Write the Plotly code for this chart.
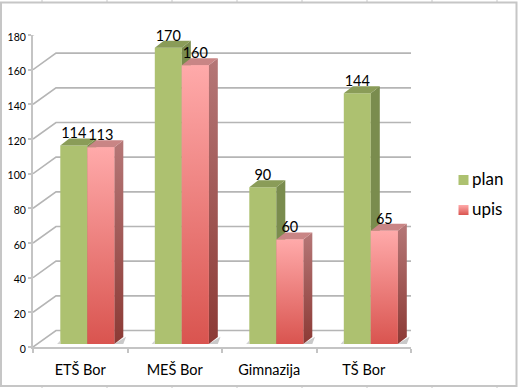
import plotly.graph_objects as go

categories = ["ETŠ Bor", "MEŠ Bor", "Gimnazija", "TŠ Bor"]
series_names = ["plan", "upis"]
plan = [114, 170, 90, 144]
upis = [113, 160, 60, 65]
y_ticks = [0, 20, 40, 60, 80, 100, 120, 140, 160, 180]

W, H = 519, 388
AX_L, AX_R, AX_T, AX_B = 33, 411, 35, 347
PX_X = (AX_R - AX_L) / 4
PX_Y = (AX_B - AX_T) / 180
BAR_ZERO, BAR_PX = 344, 1.742
BAR_W = 27 / PX_X
BAR_START = 27.3 / PX_X
SIDE_DX, SIDE_DY = 9 / PX_X, 7 / BAR_PX
WALL_DX, WALL_DY = 23 / PX_X, 16.5 / PX_Y
LABEL_DROP = 3.5 / BAR_PX

GREEN, GREEN_SIDE, GREEN_TOP = "#adc170", "#7a8c4e", "#8a9c58"
PINK_TOP, PINK_BOTTOM = "#ffaaaa", "#d9544f"
SIDE_TOP, SIDE_BOTTOM = "#b57777", "#8c3a35"
PINK_ROOF = "#c98585"
GRID, WALL = "#b5b5b5", "#c4c4c4"

fig = go.Figure()


def poly(xs, ys, color=None, yaxis="y2", gradient=None):
    t = dict(x=xs, y=ys, mode="lines", fill="toself", line=dict(width=0),
             yaxis=yaxis, xaxis="x", showlegend=False, hoverinfo="skip", cliponaxis=False)
    if gradient:
        t["fillgradient"] = dict(type="vertical", colorscale=[[0, gradient[0]], [1, gradient[1]]])
        t["fillcolor"] = gradient[0]
    else:
        t["fillcolor"] = color
    return go.Scatter(**t)


# back wall and floor
for v in y_ticks:
    fig.add_trace(go.Scatter(
        x=[0, WALL_DX, 4 + WALL_DX], y=[v, v + WALL_DY, v + WALL_DY], mode="lines",
        line=dict(color=GRID, width=1.6), yaxis="y", xaxis="x",
        showlegend=False, hoverinfo="skip", cliponaxis=False))
fig.add_trace(go.Scatter(x=[4, 4 + WALL_DX], y=[0, WALL_DY], mode="lines",
                         line=dict(color=GRID, width=1), yaxis="y", xaxis="x",
                         showlegend=False, hoverinfo="skip", cliponaxis=False))

x_plan = [i + BAR_START + BAR_W / 2 for i in range(4)]
x_upis = [i + BAR_START + BAR_W * 1.5 for i in range(4)]

# floor shadows
for i in range(4):
    l = i + BAR_START
    r = l + 2 * BAR_W
    fig.add_trace(poly([r, r + 1.3 * SIDE_DX, r + 1.0 * SIDE_DX, r],
                       [0, SIDE_DY * 1.05, 0.0, 0.0], "#c9c9c9"))
    fig.add_trace(poly([l - 0.35 * SIDE_DX, l, l],
                       [0, SIDE_DY * 0.5, 0], "#d2d2d2"))

# front faces as bars
fig.add_trace(go.Bar(x=x_plan, y=plan, width=BAR_W, name="plan", marker=dict(color=GREEN, line=dict(width=0)),
                     yaxis="y2", xaxis="x", showlegend=False, hoverinfo="skip"))
fig.add_trace(go.Bar(x=x_upis, y=upis, width=BAR_W, name="upis", marker=dict(color="#f09393", line=dict(width=0)),
                     yaxis="y2", xaxis="x", showlegend=False, hoverinfo="skip"))

# 3D faces
for i in range(4):
    l = x_plan[i] - BAR_W / 2
    r = l + BAR_W
    v = plan[i]
    fig.add_trace(poly([r, r + SIDE_DX, r + SIDE_DX, r], [0, SIDE_DY, v + SIDE_DY, v], GREEN_SIDE))
    fig.add_trace(poly([l, l + SIDE_DX, r + SIDE_DX, r], [v, v + SIDE_DY, v + SIDE_DY, v], GREEN_TOP))
for i in range(4):
    l = x_upis[i] - BAR_W / 2
    r = l + BAR_W
    v = upis[i]
    fig.add_trace(poly([r, r + SIDE_DX, r + SIDE_DX, r], [0, SIDE_DY, v + SIDE_DY, v],
                       gradient=(SIDE_BOTTOM, SIDE_TOP)))
    fig.add_trace(poly([l, l + SIDE_DX, r + SIDE_DX, r], [v, v + SIDE_DY, v + SIDE_DY, v], PINK_ROOF))
    fig.add_trace(poly([l, r, r, l], [0, 0, v, v], gradient=(PINK_BOTTOM, PINK_TOP)))

# value labels
for xs, vals in ((x_plan, plan), (x_upis, upis)):
    fig.add_trace(go.Scatter(x=xs, y=[v + SIDE_DY - LABEL_DROP for v in vals], mode="text",
                             text=[str(v) for v in vals], textposition="top center",
                             textfont=dict(family="Lato", size=14.5, color="#000"),
                             yaxis="y2", xaxis="x", showlegend=False, hoverinfo="skip", cliponaxis=False))

# key: swatch plus series name, on a full-page helper axis pair
fig.add_trace(go.Scatter(
    x=[463.5], y=[180], mode="markers", marker=dict(symbol="square", size=10, color=GREEN),
    xaxis="x3", yaxis="y3", showlegend=False, hoverinfo="skip", cliponaxis=False))
fig.add_trace(go.Scatter(
    x=[463.5], y=[210], mode="markers",
    marker=dict(symbol="square", size=10, color=PINK_TOP, gradient=dict(type="vertical", color=PINK_BOTTOM)),
    xaxis="x3", yaxis="y3", showlegend=False, hoverinfo="skip", cliponaxis=False))
fig.add_trace(go.Scatter(
    x=[472, 472], y=[181, 211], mode="text", text=series_names, textposition="middle right",
    textfont=dict(family="Lato", size=17, color="#000"),
    xaxis="x3", yaxis="y3", showlegend=False, hoverinfo="skip", cliponaxis=False))

# invisible trace carrying the category labels
fig.add_trace(go.Scatter(x=[i + 0.5 for i in range(4)], y=[0] * 4, mode="none", xaxis="x2", yaxis="y",
                         showlegend=False, hoverinfo="skip"))

shapes = [dict(type="rect", xref="paper", yref="paper",
               x0=1 / W, x1=516.5 / W, y0=1 - 386 / H, y1=1 - 2.5 / H,
               line=dict(color="#c6c6c6", width=2), fillcolor="rgba(0,0,0,0)", layer="below")]
for px in (42, 107, 172, 237, 302, 367, 432, 497):
    shapes.append(dict(type="line", xref="paper", yref="paper", x0=px / W, x1=px / W,
                       y0=1, y1=1 - 2 / H, line=dict(color="#c6c6c6", width=1)))
    shapes.append(dict(type="line", xref="paper", yref="paper", x0=px / W, x1=px / W,
                       y0=0, y1=2 / H, line=dict(color="#c6c6c6", width=1)))

x_domain = [AX_L / W, AX_R / W]
y_domain = [1 - AX_B / H, 1 - AX_T / H]
fig.update_layout(
    width=W, height=H, autosize=False, margin=dict(l=0, r=0, t=0, b=0, autoexpand=False),
    paper_bgcolor="white", plot_bgcolor="rgba(0,0,0,0)", showlegend=False,
    font=dict(family="Lato", color="#000"), barmode="overlay", shapes=shapes,
    xaxis=dict(domain=x_domain, range=[0, 4], tickvals=[0, 1, 2, 3, 4], ticktext=[""] * 5,
               ticks="outside", ticklen=4, tickwidth=2, tickcolor=WALL,
               showgrid=False, zeroline=False, showline=True, linecolor=WALL, linewidth=2,
               anchor="y", fixedrange=True),
    xaxis2=dict(domain=x_domain, range=[0, 4], overlaying="x", side="bottom", anchor="y",
                tickmode="array", tickvals=[i + 0.5 for i in range(4)], ticktext=categories,
                ticks="outside", ticklen=10, tickcolor="rgba(0,0,0,0)",
                tickfont=dict(family="Lato", size=14.5, color="#000"),
                showgrid=False, zeroline=False, showline=False, fixedrange=True),
    xaxis3=dict(domain=[0, 1], range=[0, W], anchor="y3", visible=False, fixedrange=True),
    yaxis=dict(domain=y_domain, range=[0, 180], tickvals=y_ticks,
               ticks="outside", ticklen=3, tickwidth=1.5, tickcolor=WALL,
               ticklabelshift=2,
               tickfont=dict(family="Lato", size=10.5, color="#000"),
               showgrid=False, zeroline=False, showline=True, linecolor=WALL, linewidth=2,
               anchor="x", fixedrange=True),
    yaxis2=dict(domain=y_domain, overlaying="y",
                range=[(BAR_ZERO - AX_B) / BAR_PX, (BAR_ZERO - AX_T) / BAR_PX],
                visible=False, fixedrange=True),
    yaxis3=dict(domain=[0, 1], range=[H, 0], anchor="x3", visible=False, fixedrange=True),
)

fig.write_html("out.html", config=dict(displayModeBar=False),
               post_script="document.body.style.margin='0';")
